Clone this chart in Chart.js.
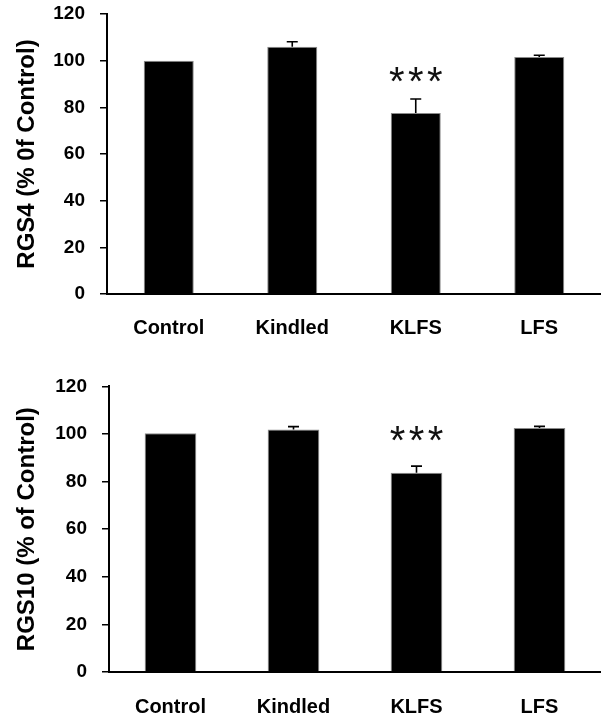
<!DOCTYPE html>
<html>
<head>
<meta charset="utf-8">
<script src="https://cdn.jsdelivr.net/npm/chart.js@4.4.1/dist/chart.umd.min.js"></script>
<style>
  html, body { margin: 0; padding: 0; background: #fff; }
  body { width: 601px; height: 719px; position: relative; overflow: hidden; }
  .wrap { position: absolute; left: 0; width: 601px; }
  #w1 { top: -13px; height: 363px; }
  #w2 { top: 360px; height: 359px; }
</style>
</head>
<body>
<div class="wrap" id="w1"><canvas id="c1"></canvas></div>
<div class="wrap" id="w2"><canvas id="c2"></canvas></div>
<script>
const categories = ['Control', 'Kindled', 'KLFS', 'LFS'];
const yTicks = [0, 20, 40, 60, 80, 100, 120];

const rgs4Values = [100, 106, 77.6, 101.6];
const rgs4Errors = [0, 2.1, 6.0, 0.7];
const rgs4Sig = ['', '', '***', ''];
const rgs4SigLevel = [0, 0, 95.1, 0];

const rgs10Values = [100.3, 101.9, 83.7, 102.5];
const rgs10Errors = [0, 1.2, 2.8, 0.7];
const rgs10Sig = ['', '', '***', ''];
const rgs10SigLevel = [0, 0, 101.2, 0];

const FONT = "'Liberation Sans', Arial, sans-serif";

const errorBarPlugin = {
  id: 'errorBars',
  afterDatasetsDraw(chart, args, opts) {
    const ctx = chart.ctx;
    const meta = chart.getDatasetMeta(0);
    const y = chart.scales.y;
    ctx.save();
    ctx.strokeStyle = '#000';
    ctx.lineWidth = 1.6;
    meta.data.forEach((bar, i) => {
      const e = opts.errors[i];
      if (!e) return;
      const v = opts.values[i];
      const yTop = y.getPixelForValue(v + e);
      const yBase = y.getPixelForValue(v);
      ctx.beginPath();
      ctx.moveTo(bar.x, yBase);
      ctx.lineTo(bar.x, yTop);
      ctx.moveTo(bar.x - 5.5, yTop);
      ctx.lineTo(bar.x + 5.5, yTop);
      ctx.stroke();
    });
    ctx.fillStyle = '#111';
    ctx.font = "40px " + FONT;
    ctx.textAlign = 'center';
    ctx.textBaseline = 'alphabetic';
    meta.data.forEach((bar, i) => {
      const s = opts.sig[i];
      if (!s) return;
      const cy = y.getPixelForValue(opts.sigLevel[i]) + 23;
      const n = s.length;
      for (let k = 0; k < n; k++) {
        ctx.fillText(s[k], bar.x + (k - (n - 1) / 2) * 19, cy);
      }
    });
    ctx.restore();
  }
};

function makeChart(id, values, errors, sig, sigLevel, title, cfg) {
  return new Chart(document.getElementById(id), {
    type: 'bar',
    data: {
      labels: categories,
      datasets: [{
        data: values,
        backgroundColor: '#000',
        borderColor: '#8a8a8a',
        borderWidth: 1,
        barPercentage: cfg.barPct,
        categoryPercentage: 1.0
      }]
    },
    plugins: [errorBarPlugin],
    options: {
      responsive: true,
      maintainAspectRatio: false,
      animation: false,
      layout: { padding: { top: cfg.padTop, right: 0, bottom: 0, left: 0 } },
      plugins: {
        legend: { display: false },
        tooltip: { enabled: false },
        errorBars: { values: values, errors: errors, sig: sig, sigLevel: sigLevel }
      },
      scales: {
        x: {
          grid: { display: false, drawTicks: false },
          border: { display: true, color: '#000', width: 2 },
          ticks: { color: '#000', font: { family: FONT, size: 20, weight: 'bold' }, padding: cfg.xPad, maxRotation: 0 },
          afterFit(scale) { scale.height = cfg.xHeight; }
        },
        y: {
          min: 0, max: 120,
          afterBuildTicks(scale) { scale.ticks = yTicks.map(v => ({ value: v })); },
          grid: { drawOnChartArea: false, drawTicks: true, tickLength: 7, color: '#000', lineWidth: 1.5 },
          border: { display: true, color: '#000', width: 2 },
          ticks: { color: '#000', font: { family: FONT, size: 19, weight: 'bold' }, padding: 15 },
          title: {
            display: true, text: title, color: '#000',
            font: { family: FONT, size: 24, weight: 'bold' },
            padding: { top: cfg.titlePad, bottom: 0 }
          },
          afterFit(scale) { scale.width = cfg.yWidth; }
        }
      }
    }
  });
}

makeChart('c1', rgs4Values, rgs4Errors, rgs4Sig, rgs4SigLevel, 'RGS4 (% 0f Control)',
  { barPct: 0.405, padTop: 27, xPad: 22, xHeight: 56, yWidth: 107, titlePad: 13 });
makeChart('c2', rgs10Values, rgs10Errors, rgs10Sig, rgs10SigLevel, 'RGS10 (% of Control)',
  { barPct: 0.42, padTop: 26, xPad: 23, xHeight: 47, yWidth: 109, titlePad: 13 });
</script>
</body>
</html>
